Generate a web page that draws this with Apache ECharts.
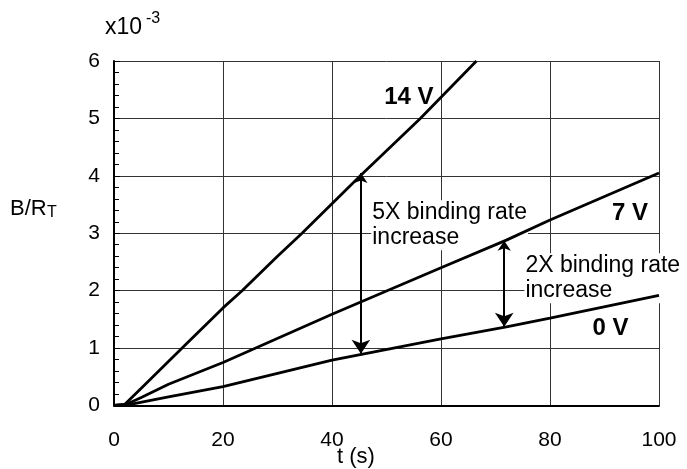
<!DOCTYPE html>
<html><head><meta charset="utf-8">
<script src="https://cdn.jsdelivr.net/npm/echarts@6/dist/echarts.min.js"></script>
<style>html,body{margin:0;padding:0;background:#fff}#c{width:687px;height:469px}</style>
</head><body><div id="c"></div>
<script>
// ---- data (t in s, B/R_T in units of 1e-3) ----
const t14 = [0, 2, 5, 12.5, 20, 23.5, 30, 34.5, 45.2, 56.2, 66.5];
const v14 = [0, 0.02, 0.3, 1.0, 1.7, 2.0, 2.6, 3.0, 4.0, 5.0, 6.0];
const t7 = [0, 2, 5, 10, 20, 40, 60, 72, 80, 100];
const v7 = [0, 0.01, 0.14, 0.37, 0.75, 1.59, 2.4, 2.88, 3.23, 4.05];
const t0 = [0, 3, 10, 20, 40, 60, 72, 80, 100];
const v0 = [0, 0.02, 0.15, 0.33, 0.79, 1.16, 1.37, 1.52, 1.92];
const xTicks = [0, 20, 40, 60, 80, 100];
const yTicks = [0, 1, 2, 3, 4, 5, 6];
const seriesNames = ['14 V', '7 V', '0 V'];
const seriesLabelAt = [[54.1, 5.36], [94.7, 3.34], [91.1, 1.35]];
const arrowT = [45.3, 71.6];
const arrowFrom = [4.05, 2.87];
const arrowTo = [0.9, 1.37];
const noteText = ['5X binding rate\nincrease', '2X binding rate\nincrease'];
const noteAt = [[47.2, 3.14], [75.3, 2.215]];

const FONT = 'Liberation Sans, Arial, sans-serif';
const zip = (a, b) => a.map((x, i) => [x, b[i]]);
const lineStyle = { color: '#000', width: 2.8 };

const chart = echarts.init(document.getElementById('c'), null, { renderer: 'canvas' });
chart.setOption({
  animation: false,
  backgroundColor: '#fff',
  grid: { left: 114, right: 28, top: 61, bottom: 63.5, containLabel: false },
  xAxis: {
    type: 'value', min: xTicks[0], max: xTicks[xTicks.length - 1], interval: 20,
    axisLine: { show: true, lineStyle: { color: '#000', width: 2 } },
    axisTick: { show: false },
    axisLabel: { fontSize: 21, color: '#000', fontFamily: FONT, margin: 24 },
    splitLine: { show: true, lineStyle: { color: '#333', width: 1 } }
  },
  yAxis: {
    type: 'value', min: yTicks[0], max: yTicks[yTicks.length - 1], interval: 1,
    axisLine: { show: true, lineStyle: { color: '#000', width: 2 } },
    axisTick: { show: true, inside: true, length: 6, lineStyle: { color: '#000' } },
    minorTick: { show: true, splitNumber: 5, length: 5, lineStyle: { color: '#000', width: 1 } },
    axisLabel: { fontSize: 21, color: '#000', fontFamily: FONT, margin: 14 },
    splitLine: { show: true, lineStyle: { color: '#333', width: 1 } }
  },
  series: [
    { name: seriesNames[0], type: 'line', data: zip(t14, v14), symbol: 'none', lineStyle, z: 3 },
    { name: seriesNames[1], type: 'line', data: zip(t7, v7), symbol: 'none', lineStyle, z: 3 },
    { name: seriesNames[2], type: 'line', data: zip(t0, v0), symbol: 'none', lineStyle, z: 3 },
    {
      type: 'lines', coordinateSystem: 'cartesian2d', z: 4,
      symbol: ['arrow', 'arrow'], symbolSize: [10, 14],
      lineStyle: { color: '#000', width: 2, opacity: 1 },
      data: arrowT.map((t, i) => ({ coords: [[t, arrowFrom[i]], [t, arrowTo[i]]] }))
    },
    {
      type: 'scatter', symbolSize: 0, z: 5, silent: true,
      itemStyle: { opacity: 1 },
      data: seriesLabelAt.map((p, i) => ({ value: p, name: seriesNames[i] })),
      label: {
        show: true, position: [0, 0], align: 'center', verticalAlign: 'middle', opacity: 1,
        formatter: p => p.name, fontSize: 24, fontWeight: 'bold', color: '#000', fontFamily: FONT
      }
    },
    {
      type: 'scatter', symbolSize: 0, z: 2, silent: true,
      itemStyle: { opacity: 1 },
      data: noteAt.map((p, i) => ({ value: p, name: noteText[i] })),
      label: {
        show: true, position: [0, 0], align: 'left', verticalAlign: 'middle', opacity: 1,
        formatter: p => p.name, fontSize: 23, lineHeight: 25, color: '#000', fontFamily: FONT,
        backgroundColor: '#fff', padding: [0, 1]
      }
    }
  ],
  graphic: [
    { type: 'text', x: 105, y: 28, style: { text: 'x10', font: '23px ' + FONT, fill: '#000', verticalAlign: 'middle' } },
    { type: 'text', x: 146, y: 19, style: { text: '-3', font: '16px ' + FONT, fill: '#000', verticalAlign: 'middle' } },
    { type: 'text', x: 10, y: 209, style: { text: 'B/R', font: '22px ' + FONT, fill: '#000', verticalAlign: 'middle' } },
    { type: 'text', x: 47, y: 213, style: { text: 'T', font: '16px ' + FONT, fill: '#000', verticalAlign: 'middle' } },
    { type: 'text', x: 337, y: 457, style: { text: 't (s)', font: '22px ' + FONT, fill: '#000', verticalAlign: 'middle' } }
  ]
});
</script></body></html>
